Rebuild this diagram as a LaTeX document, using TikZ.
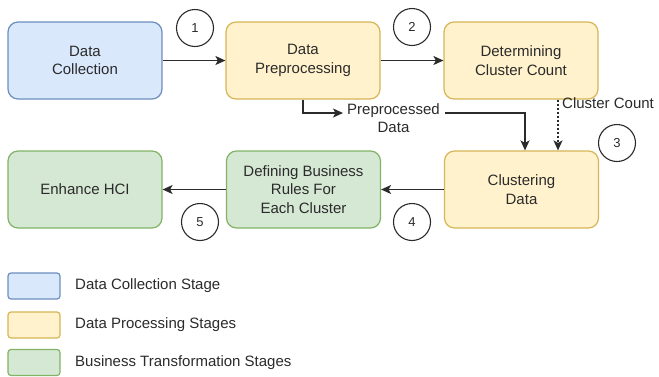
\documentclass[tikz,border=0pt]{standalone}
\usepackage{fontspec}
\setmainfont{Liberation Sans}
\usetikzlibrary{arrows.meta}
\definecolor{bfill}{HTML}{DAE8FC}\definecolor{bline}{HTML}{6C8EBF}
\definecolor{yfill}{HTML}{FFF2CC}\definecolor{yline}{HTML}{D6B656}
\definecolor{gfill}{HTML}{D5E8D4}\definecolor{gline}{HTML}{82B366}
\definecolor{txt}{HTML}{2B2B2B}
\begin{document}
\begin{tikzpicture}[x=1pt,y=-1pt,
  every node/.style={text=txt,font=\fontsize{15}{18.5}\selectfont},
  stage/.style={rounded corners=10pt,line width=1.2pt,minimum width=154pt,minimum height=77pt,align=center,inner sep=2pt},
  blue/.style={stage,draw=bline,fill=bfill},
  yel/.style={stage,draw=yline,fill=yfill},
  grn/.style={stage,draw=gline,fill=gfill},
  legbox/.style={rounded corners=3pt,line width=1.2pt,minimum width=52pt,minimum height=26pt,inner sep=0pt},
  num/.style={circle,draw=txt,line width=1.1pt,minimum size=37pt,inner sep=0pt,font=\fontsize{13}{15}\selectfont},
  arr/.style={draw=txt,line width=1.4pt,-{Stealth[length=10pt,width=9pt,inset=2.5pt]}},
  dotarr/.style={arr,dash pattern=on 2pt off 2pt}]
\useasboundingbox (0,0) rectangle (659,376);
\fill[white] (0,0) rectangle (659,376);
% stages
\node[blue] (dc)  at (85,60.5)  {Data\\Collection};
\node[yel]  (dp)  at (303,60.5) {Data\\Preprocessing};
\node[yel]  (dcc) at (521,60.5) {Determining\\Cluster Count};
\node[yel]  (cd)  at (521.5,189.5) {Clustering\\Data};
\node[grn]  (db)  at (303.5,189.5) {Defining Business\\Rules For\\Each Cluster};
\node[grn]  (eh)  at (85,189.5) {Enhance HCI};
% numbers
\node[num] (n1) at (195,28) {1};
\node[num] (n2) at (412,27) {2};
\node[num] (n3) at (617,143) {3};
\node[num] (n4) at (412,222) {4};
\node[num] (n5) at (200,222) {5};
% connectors
\draw[arr] (dc) -- (dp);
\draw[arr] (dp) -- (dcc);
\node[align=center,inner sep=0pt] (pp) at (393.5,118) {Preprocessed\\Data};
\coordinate (ppin) at (343,113);
\coordinate (ppout) at (445,113);
\coordinate (cdx) at (525,0);
\draw[arr] (dp.south) |- (ppin);
\draw[arr] (ppout) -| (cd.north -| cdx);
\coordinate (ccx) at (558,0);
\draw[dotarr] (dcc.south -| ccx) -- (cd.north -| ccx);
\node[anchor=west,inner sep=0pt] (cc) at (562,103) {Cluster Count};
\draw[arr] (cd) -- (db);
\draw[arr] (db) -- (eh);
% legend
\node[legbox,draw=bline,fill=bfill] (l1) at (34,286) {};
\node[legbox,draw=yline,fill=yfill] (l2) at (34,325) {};
\node[legbox,draw=gline,fill=gfill] (l3) at (34,362.5) {};
\node[anchor=west,inner sep=0pt] (t1) at (75,286) {Data Collection Stage};
\node[anchor=west,inner sep=0pt] (t2) at (75,325) {Data Processing Stages};
\node[anchor=west,inner sep=0pt] (t3) at (75,362.5) {Business Transformation Stages};
\end{tikzpicture}
\end{document}
